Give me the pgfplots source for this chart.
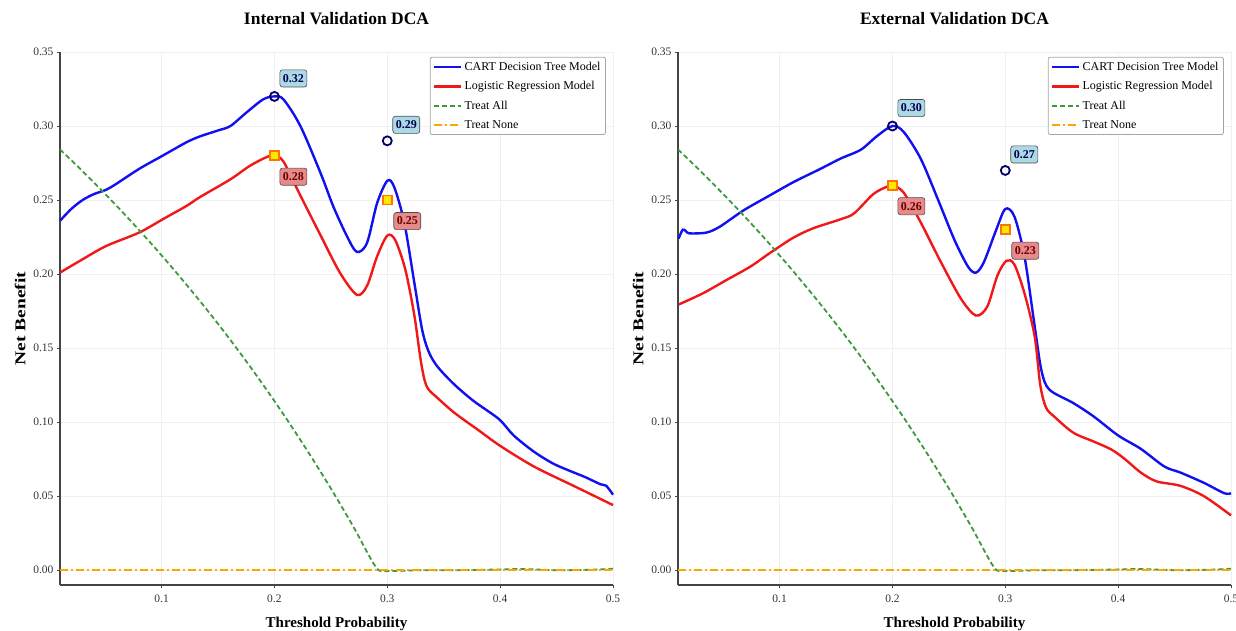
\documentclass[border=0pt]{standalone}
\usepackage{fontspec}
\setmainfont{Liberation Serif}
\usepackage{pgfplots}
\pgfplotsset{compat=1.18}

\definecolor{cartblue}{HTML}{1010F0}
\definecolor{lrred}{HTML}{F01818}
\definecolor{allgreen}{HTML}{3C9A3C}
\definecolor{noneorange}{HTML}{FFA500}
\definecolor{lblue}{HTML}{ADD8E6}
\definecolor{lcoral}{HTML}{E88A8A}
\definecolor{spine}{HTML}{444444}

\tikzset{
  ptlbl/.style={rounded corners=2.5pt, draw=black!70, line width=0.6pt, inner xsep=3pt, inner ysep=4.5pt,
    font=\fontsize{12}{14}\selectfont\bfseries},
}

\pgfplotsset{
  dca/.style={
    scale only axis, width=553pt, height=533pt,
    xmin=0.01, xmax=0.5, ymin=-0.01, ymax=0.35,
    xtick={0.1,0.2,0.3,0.4,0.5},
    ytick={0,0.05,0.1,0.15,0.2,0.25,0.3,0.35},
    axis x line*=bottom, axis y line*=left,
    axis line style={spine, line width=1.6pt, -},
    tick style={spine, line width=0.8pt},
    tick align=outside, major tick length=3pt,
    grid=major, grid style={gray!12, line width=0.6pt},
    /pgf/number format/assume math mode=true,
    tick label style={font=\fontsize{11.5}{13}\selectfont, text=black!80},
    yticklabel style={/pgf/number format/fixed, /pgf/number format/fixed zerofill, /pgf/number format/precision=2},
    xticklabel style={/pgf/number format/fixed, /pgf/number format/precision=1, yshift=-3pt},
    xlabel={\textbf{Threshold Probability}},
    ylabel={\scalebox{1.3}[1]{\textbf{Net Benefit}}},
    label style={font=\fontsize{15}{17}\selectfont},
    xlabel style={yshift=-8pt},
    ylabel style={yshift=1pt},
    title style={font=\fontsize{17.5}{20}\selectfont\bfseries, at={(0.5,1)}, anchor=center, yshift=27pt},
    legend style={at={(0.987,0.991)}, anchor=north east, font=\fontsize{12}{14}\selectfont,
      draw=gray!70, line width=0.8pt, rounded corners=2pt, fill=white, row sep=5.5pt,
      inner xsep=3pt, inner ysep=3pt},
    legend image code/.code={\draw[#1] (0pt,0pt) -- (27pt,0pt);},
    legend cell align=left,
    clip=false,
  },
  cart/.style={cartblue, line width=2.4pt, smooth},
  lr/.style={lrred, line width=2.4pt, smooth},
  tall/.style={allgreen, line width=1.8pt, dash pattern=on 5pt off 3pt, smooth},
  tnone/.style={noneorange, line width=1.5pt, dash pattern=on 8pt off 3pt on 2pt off 3pt},
  circ/.style={only marks, mark=o, mark size=4.5pt, mark options={draw=blue!40!black, fill=yellow!15, line width=1.8pt}, forget plot},
  sq/.style={only marks, mark=square*, mark size=4.5pt, mark options={draw=orange!90!red, fill=yellow!90!orange, line width=1.5pt}, forget plot},
}

\begin{document}
\begin{tikzpicture}
\useasboundingbox (0,0) rectangle (1236pt,630pt);

% ---------------- internal ----------------
\begin{axis}[dca, at={(60pt,45pt)}, anchor=south west, title={Internal Validation DCA}]
\addplot[cart] coordinates {
 (0.010,0.236) (0.020,0.244) (0.030,0.250) (0.040,0.254) (0.051,0.257) (0.060,0.261)
 (0.080,0.271) (0.101,0.280) (0.122,0.289) (0.134,0.293) (0.150,0.297) (0.161,0.300)
 (0.175,0.309) (0.190,0.318) (0.200,0.320) (0.208,0.318) (0.223,0.300) (0.241,0.268)
 (0.252,0.246) (0.264,0.226) (0.273,0.215) (0.282,0.221) (0.291,0.248) (0.300,0.263)
 (0.306,0.259) (0.315,0.235) (0.324,0.194) (0.331,0.162) (0.337,0.147) (0.345,0.137)
 (0.360,0.125) (0.377,0.114) (0.399,0.102) (0.412,0.091) (0.430,0.080) (0.447,0.072)
 (0.462,0.067) (0.475,0.063) (0.489,0.058) (0.494,0.057) (0.500,0.051)
};
\addlegendentry{CART Decision Tree Model}
\addplot[lr] coordinates {
 (0.010,0.201) (0.030,0.210) (0.051,0.219) (0.080,0.228) (0.101,0.237) (0.122,0.246)
 (0.134,0.252) (0.161,0.264) (0.178,0.273) (0.193,0.279) (0.200,0.280) (0.208,0.276)
 (0.223,0.253) (0.241,0.226) (0.258,0.201) (0.273,0.186) (0.282,0.192) (0.291,0.212)
 (0.300,0.226) (0.307,0.223) (0.316,0.203) (0.324,0.172) (0.330,0.140) (0.335,0.124)
 (0.345,0.116) (0.360,0.106) (0.380,0.095) (0.400,0.084) (0.430,0.070) (0.465,0.057)
 (0.500,0.044)
};
\addlegendentry{Logistic Regression Model}
\addplot[tall] coordinates {
 (0.01,0.2842) (0.03,0.2695) (0.05,0.2541) (0.07,0.2381) (0.09,0.2213) (0.11,0.2038)
 (0.13,0.1855) (0.15,0.1664) (0.17,0.1463) (0.19,0.1252) (0.21,0.1030) (0.23,0.0797)
 (0.25,0.0552) (0.27,0.0293) (0.29,0.0020) (0.30,-0.0005) (0.33,0.0) (0.36,0.0)
 (0.40,0.0005) (0.42,0.0008) (0.45,0.0) (0.48,0.0003) (0.50,0.001)
};
\addlegendentry{Treat All}
\addplot[tnone] coordinates {(0.01,0) (0.5,0)};
\addlegendentry{Treat None}
\addplot[circ] coordinates {(0.2,0.32) (0.3,0.29)};
\addplot[sq] coordinates {(0.2,0.28) (0.3,0.25)};
\node[ptlbl, fill=lblue, text=blue!30!black] at (axis cs:0.2,0.32) [xshift=19pt, yshift=18pt] {0.32};
\node[ptlbl, fill=lblue, text=blue!30!black] at (axis cs:0.3,0.29) [xshift=19pt, yshift=16pt] {0.29};
\node[ptlbl, fill=lcoral, text=red!40!black] at (axis cs:0.2,0.28) [xshift=19pt, yshift=-21pt] {0.28};
\node[ptlbl, fill=lcoral, text=red!40!black] at (axis cs:0.3,0.25) [xshift=20pt, yshift=-21pt] {0.25};
\end{axis}

% ---------------- external ----------------
\begin{axis}[dca, at={(678pt,45pt)}, anchor=south west, title={External Validation DCA}]
\addplot[cart] coordinates {
 (0.0105,0.224) (0.0142,0.230) (0.017,0.229) (0.020,0.2275) (0.035,0.228) (0.047,0.232)
 (0.068,0.243) (0.091,0.253) (0.112,0.262) (0.136,0.271) (0.154,0.278) (0.172,0.284)
 (0.186,0.293) (0.200,0.300) (0.210,0.296) (0.225,0.278) (0.240,0.251) (0.255,0.223)
 (0.267,0.205) (0.274,0.201) (0.281,0.208) (0.292,0.230) (0.300,0.244) (0.308,0.239)
 (0.317,0.212) (0.326,0.165) (0.332,0.135) (0.339,0.122) (0.360,0.113) (0.378,0.104)
 (0.400,0.091) (0.420,0.082) (0.441,0.070) (0.455,0.066) (0.476,0.059) (0.494,0.052)
 (0.500,0.052)
};
\addlegendentry{CART Decision Tree Model}
\addplot[lr] coordinates {
 (0.0107,0.1795) (0.032,0.187) (0.053,0.196) (0.074,0.205) (0.091,0.214) (0.112,0.2245)
 (0.130,0.231) (0.154,0.237) (0.166,0.241) (0.183,0.254) (0.195,0.259) (0.200,0.260)
 (0.210,0.255) (0.225,0.235) (0.243,0.208) (0.261,0.183) (0.274,0.172) (0.284,0.178)
 (0.293,0.199) (0.301,0.209) (0.308,0.2065) (0.317,0.187) (0.326,0.158) (0.331,0.125)
 (0.336,0.110) (0.343,0.104) (0.360,0.093) (0.378,0.087) (0.394,0.0815) (0.406,0.075)
 (0.420,0.066) (0.434,0.060) (0.455,0.057) (0.476,0.050) (0.500,0.037)
};
\addlegendentry{Logistic Regression Model}
\addplot[tall] coordinates {
 (0.01,0.2842) (0.03,0.2695) (0.05,0.2541) (0.07,0.2381) (0.09,0.2213) (0.11,0.2038)
 (0.13,0.1855) (0.15,0.1664) (0.17,0.1463) (0.19,0.1252) (0.21,0.1030) (0.23,0.0797)
 (0.25,0.0552) (0.27,0.0293) (0.29,0.0020) (0.30,-0.0005) (0.33,0.0) (0.36,0.0)
 (0.40,0.0005) (0.42,0.0008) (0.45,0.0) (0.48,0.0003) (0.50,0.001)
};
\addlegendentry{Treat All}
\addplot[tnone] coordinates {(0.01,0) (0.5,0)};
\addlegendentry{Treat None}
\addplot[circ] coordinates {(0.2,0.30) (0.3,0.27)};
\addplot[sq] coordinates {(0.2,0.26) (0.3,0.23)};
\node[ptlbl, fill=lblue, text=blue!30!black] at (axis cs:0.2,0.30) [xshift=19pt, yshift=18pt] {0.30};
\node[ptlbl, fill=lblue, text=blue!30!black] at (axis cs:0.3,0.27) [xshift=19pt, yshift=16pt] {0.27};
\node[ptlbl, fill=lcoral, text=red!40!black] at (axis cs:0.2,0.26) [xshift=19pt, yshift=-21pt] {0.26};
\node[ptlbl, fill=lcoral, text=red!40!black] at (axis cs:0.3,0.23) [xshift=20pt, yshift=-21pt] {0.23};
\end{axis}
\end{tikzpicture}
\end{document}
